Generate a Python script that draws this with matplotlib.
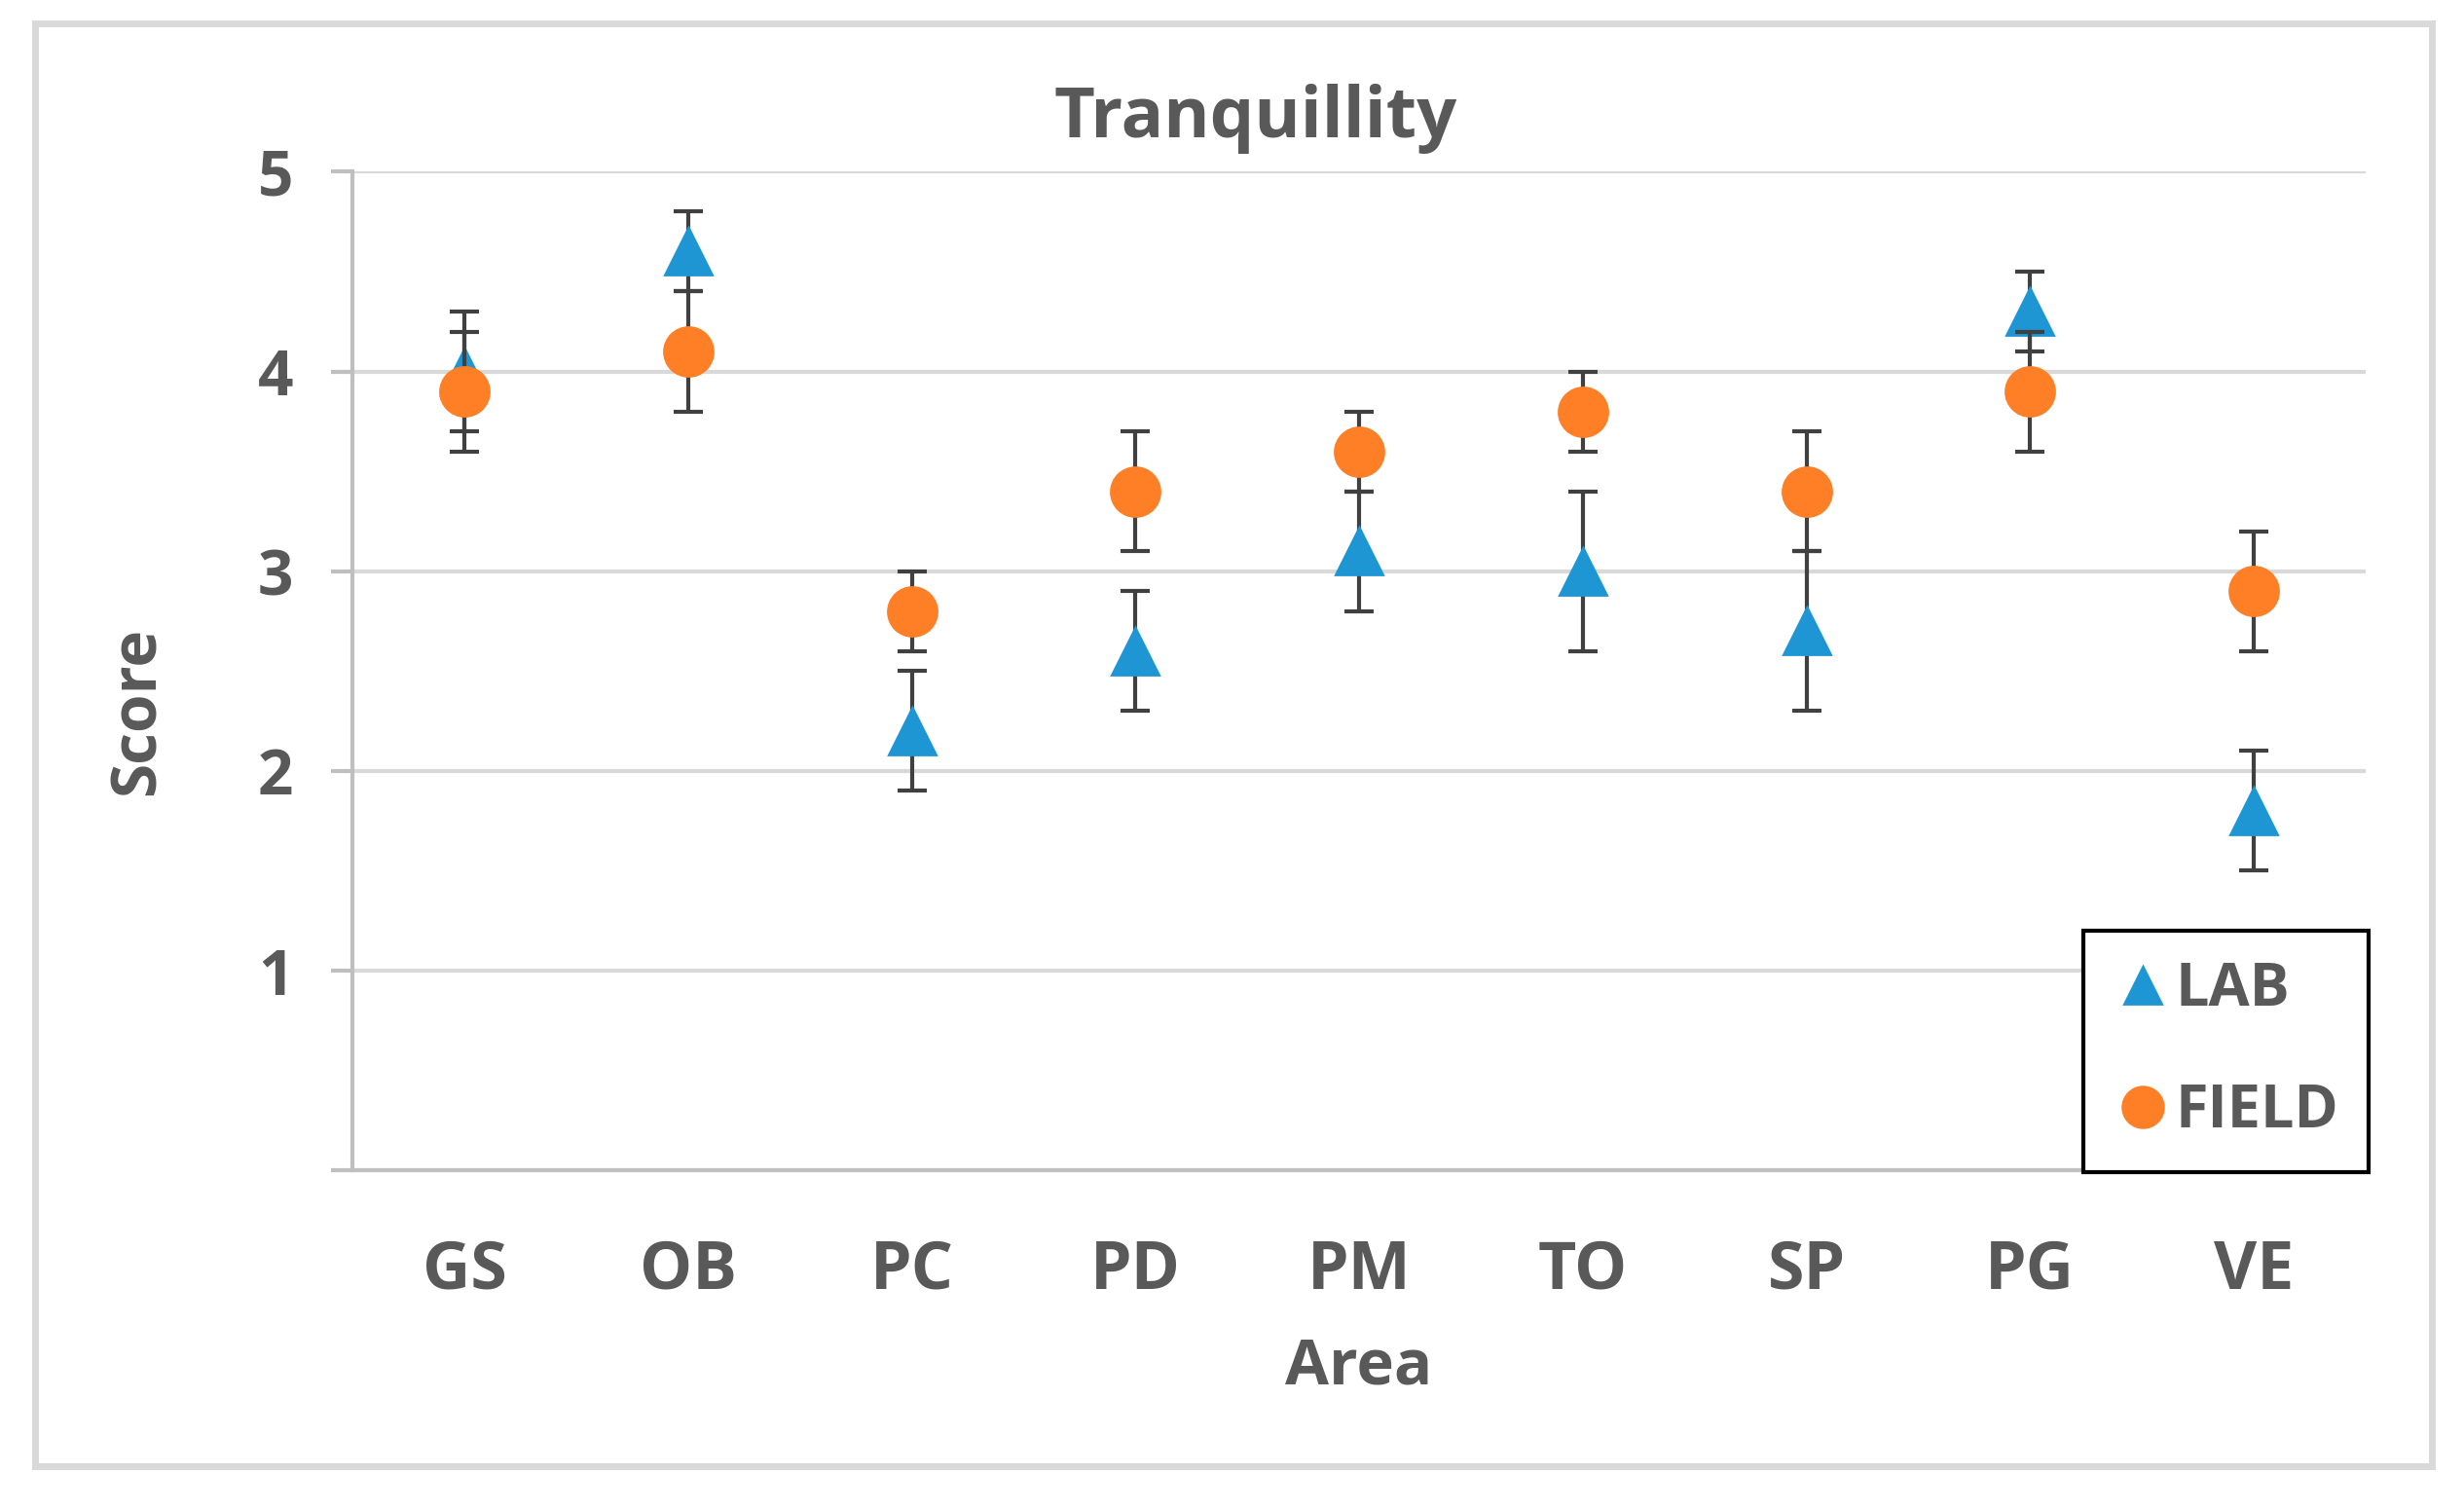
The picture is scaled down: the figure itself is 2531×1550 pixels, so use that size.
import matplotlib
matplotlib.use('Agg')
import numpy as np
from matplotlib import pyplot as plt
from matplotlib.patches import Rectangle
from matplotlib.lines import Line2D

areas = ['GS', 'OB', 'PC', 'PD', 'PM', 'TO', 'SP', 'PG', 'VE']
lab = [4.0, 4.6, 2.2, 2.6, 3.1, 3.0, 2.7, 4.3, 1.8]
lab_err = [0.3, 0.2, 0.3, 0.3, 0.3, 0.4, 0.4, 0.2, 0.3]
field = [3.9, 4.1, 2.8, 3.4, 3.6, 3.8, 3.4, 3.9, 2.9]
field_err = [0.3, 0.3, 0.2, 0.3, 0.2, 0.2, 0.3, 0.3, 0.3]

txt = '#595959'
blue = '#1f96d4'
orange = '#ff7f27'
bar_col = '#404040'

plt.rcParams['font.family'] = ['Open Sans', 'DejaVu Sans']
plt.rcParams['font.weight'] = 'bold'

fig = plt.figure(figsize=(12.655, 7.75), dpi=200)
ax = fig.add_axes([0.1432, 0.2244, 0.8168, 0.6618])

x = np.arange(len(areas))
ax.errorbar(x, lab, yerr=lab_err, fmt='^', color=blue, ms=17, mec=blue,
            ecolor=bar_col, elinewidth=1.5, capsize=5.5, capthick=1.5,
            zorder=3)
ax.errorbar(x, field, yerr=field_err, fmt='o', color=orange, ms=18, mec=orange,
            ecolor=bar_col, elinewidth=1.5, capsize=5.5, capthick=1.5,
            zorder=4)

ax.set_xlim(-0.5, 8.5)
ax.set_ylim(0, 5)
ax.set_xticks(x)
ax.set_xticklabels(areas)
ax.set_yticks([0, 1, 2, 3, 4, 5])
ax.set_yticklabels(['', '1', '2', '3', '4', '5'])
ax.yaxis.grid(True, color='#d9d9d9', lw=1.5)
ax.set_axisbelow(True)
for s in ['top', 'right']:
    ax.spines[s].set_visible(False)
ax.spines['left'].set_color('#bfbfbf')
ax.spines['bottom'].set_color('#bfbfbf')
ax.spines['left'].set_linewidth(1.5)
ax.spines['bottom'].set_linewidth(1.5)
ax.tick_params(axis='y', length=8, width=1.5, color='#bfbfbf', labelsize=23,
               labelcolor=txt, pad=14)
ax.tick_params(axis='x', length=0, labelsize=24.5, labelcolor=txt, pad=25)

fig.text(0.5097, 0.921, 'Tranquillity', fontsize=26, color=txt,
         fontweight='bold', ha='center', va='center')
ax.set_xlabel('Area', fontsize=23.5, color=txt, fontweight='bold', labelpad=12)
ax.set_ylabel('Score', fontsize=23, color=txt, fontweight='bold')
ax.yaxis.set_label_coords(-0.091, 0.46)

handles = [Line2D([], [], ls='none', marker='^', color=blue, ms=14),
           Line2D([], [], ls='none', marker='o', color=orange, ms=15)]
leg = ax.legend(handles, ['LAB', 'FIELD'], loc='lower right',
                bbox_to_anchor=(0.9613, 0.2234),
                bbox_transform=fig.transFigure, fontsize=22, frameon=True,
                fancybox=False, edgecolor='black', handletextpad=0.05,
                labelspacing=1.05, borderpad=0.5, handlelength=1.0,
                borderaxespad=0, framealpha=1)
leg.get_frame().set_linewidth(1.5)
for t in leg.get_texts():
    t.set_color(txt)

fig.patches.append(Rectangle((0.0142, 0.0285), 0.9729, 0.9557,
                             transform=fig.transFigure, fill=False,
                             edgecolor='#d9d9d9', lw=2.5))

fig.savefig('out.png', dpi=200)
